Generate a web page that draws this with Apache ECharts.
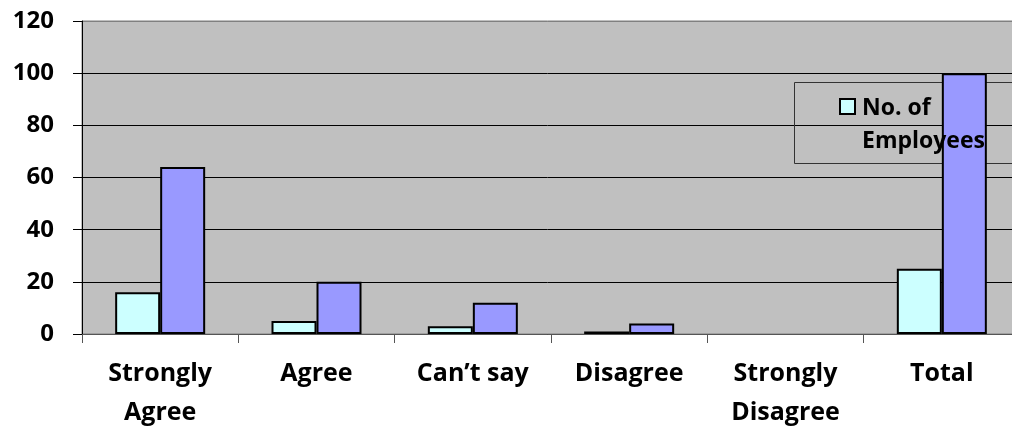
<!DOCTYPE html>
<html>
<head>
<meta charset="utf-8">
<style>
  html, body { margin: 0; padding: 0; background: #ffffff; }
  #chart { width: 1012px; height: 426px; }
</style>
<script src="https://cdn.jsdelivr.net/npm/echarts@6/dist/echarts.min.js"></script>
</head>
<body>
<div id="chart"></div>
<script>
// Survey responses per answer category
const categories = ['Strongly\nAgree', 'Agree', 'Can\u2019t say', 'Disagree', 'Strongly\nDisagree', 'Total'];
const employees = [16, 5, 3, 1, 0, 25];
const percentage = [64, 20, 12, 4, 0, 100];
const yTicks = { min: 0, max: 120, interval: 20 };
const legendLines = ['No. of', 'Employees'];

const FONT = '"Open Sans", Lato, sans-serif';
const chart = echarts.init(document.getElementById('chart'));

// Zero-height bars get no outline so nothing shows for empty categories
function barData(values) {
  return values.map(v => v === 0 ? { value: v, itemStyle: { borderWidth: 0 } } : v);
}

// Gridlines are black; the topmost one doubles as the grey plot border
const lineCount = (yTicks.max - yTicks.min) / yTicks.interval + 1;
const gridColors = Array.from({ length: lineCount }, (_, i) => i === lineCount - 1 ? '#808080' : '#000000');

chart.setOption({
  backgroundColor: '#ffffff',
  animation: false,
  grid: {
    left: 82, top: 21, width: 938, height: 313,
    outerBoundsMode: 'none', containLabel: false,
    show: true, backgroundColor: '#c0c0c0', borderColor: '#808080', borderWidth: 1
  },
  xAxis: {
    type: 'category',
    data: categories,
    axisLine: { lineStyle: { color: '#555555', width: 1 } },
    axisTick: { show: true, length: 9, lineStyle: { color: '#555555' } },
    axisLabel: {
      color: '#000', fontFamily: FONT, fontWeight: 'bold', fontSize: 25,
      lineHeight: 39, margin: 20, interval: 0
    }
  },
  yAxis: {
    type: 'value',
    min: yTicks.min, max: yTicks.max, interval: yTicks.interval,
    axisLine: { show: true, lineStyle: { color: '#000', width: 1 } },
    axisTick: { show: true, length: 9, lineStyle: { color: '#000' } },
    splitLine: { lineStyle: { color: gridColors, width: 1 } },
    axisLabel: {
      color: '#000', fontFamily: FONT, fontWeight: 'bold', fontSize: 24, margin: 28
    }
  },
  series: [
    {
      name: 'No. of Employees', type: 'bar', data: barData(employees),
      barWidth: 45, barGap: '0%',
      itemStyle: { color: '#ccffff', borderColor: '#000', borderWidth: 2 }
    },
    {
      name: 'Percentage', type: 'bar', data: barData(percentage),
      barWidth: 45, barGap: '0%',
      itemStyle: { color: '#9999ff', borderColor: '#000', borderWidth: 2 }
    }
  ],
  graphic: [
    {
      type: 'rect', z: 1, silent: true,
      shape: { x: 794.5, y: 82.5, width: 240, height: 81 },
      style: { fill: 'transparent', stroke: '#333333', lineWidth: 1 }
    },
    {
      type: 'rect', z: 20, silent: true,
      shape: { x: 840, y: 99, width: 15, height: 15 },
      style: { fill: '#ccffff', stroke: '#000', lineWidth: 2 }
    },
    {
      type: 'text', z: 20, silent: true, left: 862, top: 92,
      style: {
        text: legendLines.join('\n'), fill: '#000',
        font: 'bold 23px ' + FONT, lineHeight: 33
      }
    }
  ]
});
</script>
</body>
</html>
